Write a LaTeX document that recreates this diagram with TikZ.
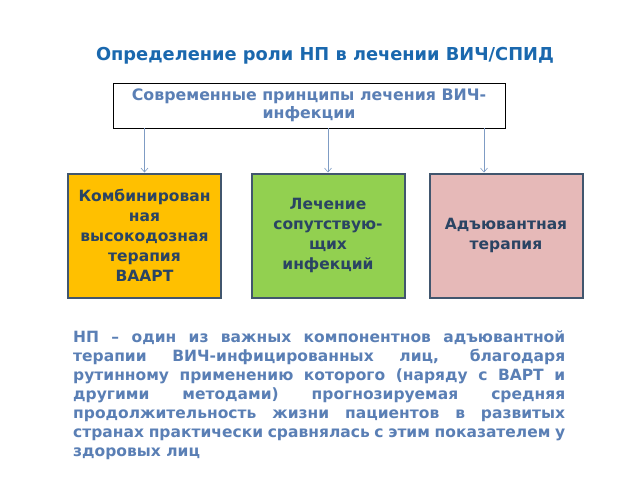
\documentclass[tikz,border=0pt]{standalone}
\usepackage{fontspec}
\setmainfont{DejaVu Sans}
\usetikzlibrary{arrows.meta}
\definecolor{titleblue}{HTML}{1A68AE}
\definecolor{lightblue}{HTML}{5A7FB5}
\definecolor{darkblue}{HTML}{2A4463}
\definecolor{boxline}{HTML}{41566E}
\definecolor{arrowblue}{HTML}{7F9CC4}
\definecolor{orangefill}{HTML}{FFC000}
\definecolor{greenfill}{HTML}{92D050}
\definecolor{pinkfill}{HTML}{E6B9B8}
\tikzset{
  kind/.style={draw=boxline, line width=2pt, minimum width=153pt, minimum height=124pt,
    align=center, text width=150pt, inner xsep=0pt, font={\fontsize{15.5}{20}\selectfont\bfseries}, text=darkblue},
  link/.style={draw=arrowblue, line width=0.6pt, -{Straight Barb[length=4pt,width=7pt]}}
}
\begin{document}
\begin{tikzpicture}[x=1pt,y=-1pt]
        \useasboundingbox (0,0) rectangle (638,479);
        \fill[white] (0,0) rectangle (638,479);

        % title
        \node[titleblue,font={\fontsize{17.8}{20}\selectfont\bfseries}] (title) at (325,56) {Определение роли НП в лечении ВИЧ/СПИД};

        % principles
        \node[draw=black, line width=0.8pt, minimum width=392pt, minimum height=45pt, align=center,
          inner sep=0pt, text=lightblue, font={\fontsize{15.8}{18}\selectfont\bfseries}] (top) at (309,105.5)
          {Современные принципы лечения ВИЧ-\\инфекции};

        \node[kind, fill=orangefill] (haart) at (144.5,235.5) {Комбинирован\\ная\\высокодозная\\терапия\\ВААРТ};
        \node[kind, fill=greenfill] (assoc) at (328,235.5) {Лечение\\сопутствую-\\щих\\инфекций};
        \node[kind, fill=pinkfill] (adjuv) at (506,235.5) {Адъювантная\\терапия};

        \coordinate (adjin) at ([xshift=-22pt]adjuv.north);
        \draw[link] (top.south -| haart.north) -- (haart.north);
        \draw[link] (top.south -| assoc.north) -- (assoc.north);
        \draw[link] (top.south -| adjin) -- (adjin);

        % note
        \node[anchor=north west, inner sep=0pt, text width=492pt, align=justify, text=lightblue,
          font={\fontsize{15.5}{19}\selectfont\bfseries}] (note) at (73,330)
          {НП -- один из важных компонентнов адъювантной\linebreak
          терапии ВИЧ-инфицированных лиц, благодаря\linebreak
          рутинному применению которого (наряду с ВАРТ и\linebreak
          другими методами) прогнозируемая средняя\linebreak
          продолжительность жизни пациентов в развитых\linebreak
          странах практически сравнялась с этим показателем у\linebreak
          здоровых лиц};
\end{tikzpicture}
\end{document}
